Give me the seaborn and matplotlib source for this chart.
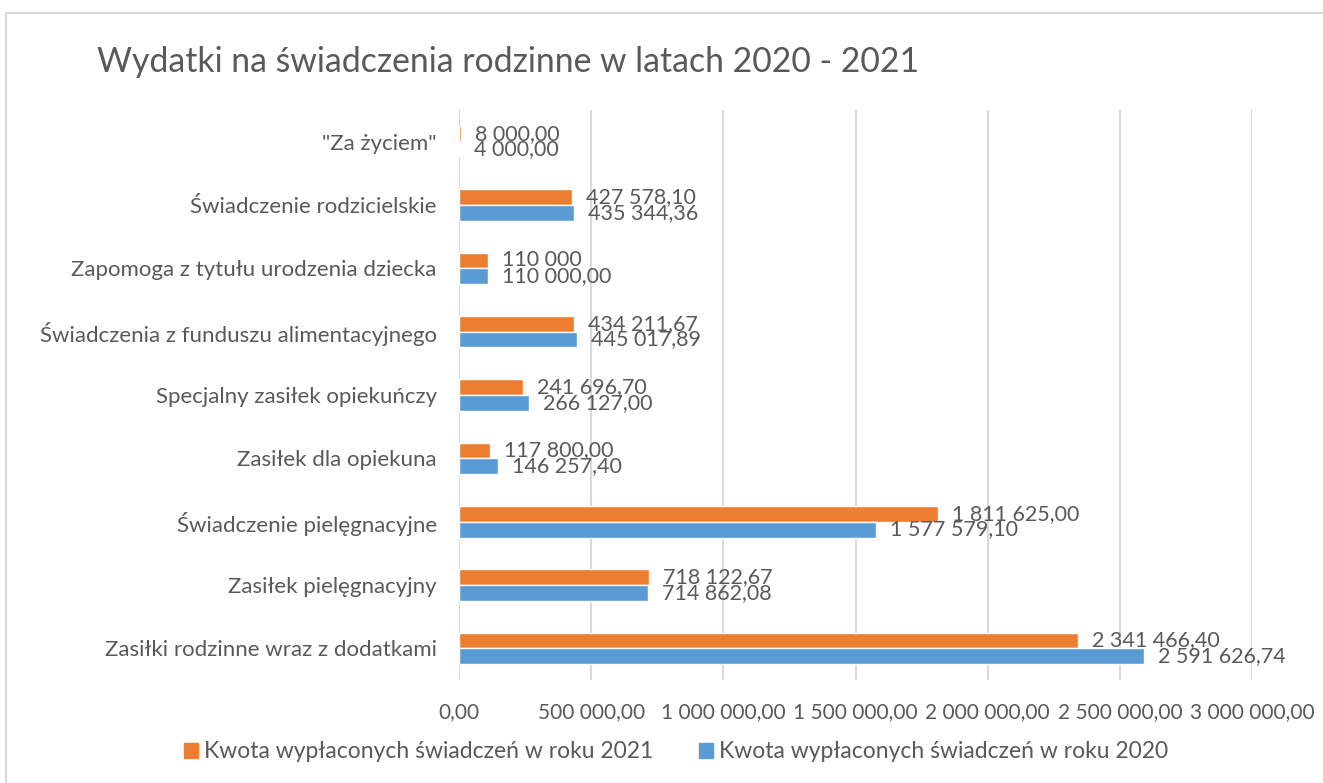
import pandas as pd
import numpy as np
import seaborn as sns
import matplotlib.pyplot as plt
from matplotlib.ticker import FuncFormatter
from matplotlib.lines import Line2D

categories = ['"Za życiem"', 'Świadczenie rodzicielskie', 'Zapomoga z tytułu urodzenia dziecka',
              'Świadczenia z funduszu alimentacyjnego', 'Specjalny zasiłek opiekuńczy',
              'Zasiłek dla opiekuna', 'Świadczenie pielęgnacyjne', 'Zasiłek pielęgnacyjny',
              'Zasiłki rodzinne wraz z dodatkami']
kwota_2021 = [8000.00, 427578.10, 110000, 434211.67, 241696.70, 117800.00, 1811625.00, 718122.67, 2341466.40]
kwota_2020 = [4000.00, 435344.36, 110000.00, 445017.89, 266127.00, 146257.40, 1577579.10, 714862.08, 2591626.74]
labels_2021 = ['8 000,00', '427 578,10', '110 000', '434 211,67', '241 696,70', '117 800,00',
               '1 811 625,00', '718 122,67', '2 341 466,40']
labels_2020 = ['4 000,00', '435 344,36', '110 000,00', '445 017,89', '266 127,00', '146 257,40',
               '1 577 579,10', '714 862,08', '2 591 626,74']
series = ['Kwota wypłaconych świadczeń w roku 2021', 'Kwota wypłaconych świadczeń w roku 2020']

df = pd.DataFrame({
    'kategoria': categories * 2,
    'kwota': kwota_2021 + kwota_2020,
    'seria': [series[0]] * len(categories) + [series[1]] * len(categories),
})

sns.set_style('white')
plt.rcParams['font.family'] = ['Lato', 'DejaVu Sans']
grey = '#595959'
fs = 15

fig = plt.figure(figsize=(13.23, 7.83), dpi=100)
ax = fig.add_axes([459 / 1323, 1 - 680 / 783, (1252 - 459) / 1323, (680 - 110) / 783])

sns.barplot(data=df, y='kategoria', x='kwota', hue='seria', hue_order=series,
            palette=['#ED7D31', '#5B9BD5'], orient='h', width=0.5, gap=0,
            saturation=1, ax=ax, legend=False)

for cont, labs in zip(ax.containers, [labels_2021, labels_2020]):
    ax.bar_label(cont, labels=labs, padding=10, fontsize=15.5, color=grey)

ax.set_xlim(0, 3000000)
ax.set_ylim(8.5, -0.5)
ax.set_xticks(np.arange(0, 3000001, 500000))
ax.xaxis.set_major_formatter(FuncFormatter(lambda v, p: f'{v:,.2f}'.replace(',', ' ').replace('.', ',')))
ax.grid(axis='x', color='#D9D9D9', linewidth=1.5)
ax.set_axisbelow(True)
for s in ax.spines.values():
    s.set_visible(False)
ax.tick_params(axis='both', length=0, labelcolor=grey)
ax.tick_params(axis='x', pad=16, labelsize=fs)
ax.tick_params(axis='y', pad=16, labelsize=16)
ax.set_xlabel('')
ax.set_ylabel('')

fig.text(97 / 1323, 1 - 62 / 783, 'Wydatki na świadczenia rodzinne w latach 2020 - 2021',
         fontsize=24.3, color=grey, va='center', ha='left')

handles = [plt.Rectangle((0, 0), 1, 1, color=c) for c in ['#ED7D31', '#5B9BD5']]
fig.legend(handles, series, loc='center', bbox_to_anchor=(0.511, 1 - 752 / 783), ncol=2,
           frameon=False, fontsize=16.5, labelcolor=grey, handlelength=0.6, handleheight=0.6,
           handletextpad=0.25, columnspacing=2.0)

# chart border (top and left edges visible)
fig.add_artist(Line2D([6 / 1323, 6 / 1323], [0, 1 - 13 / 783], color='#D9D9D9', linewidth=1.5))
fig.add_artist(Line2D([6 / 1323, 1], [1 - 13 / 783, 1 - 13 / 783], color='#D9D9D9', linewidth=1.5))

fig.savefig('out.png', dpi=100)
